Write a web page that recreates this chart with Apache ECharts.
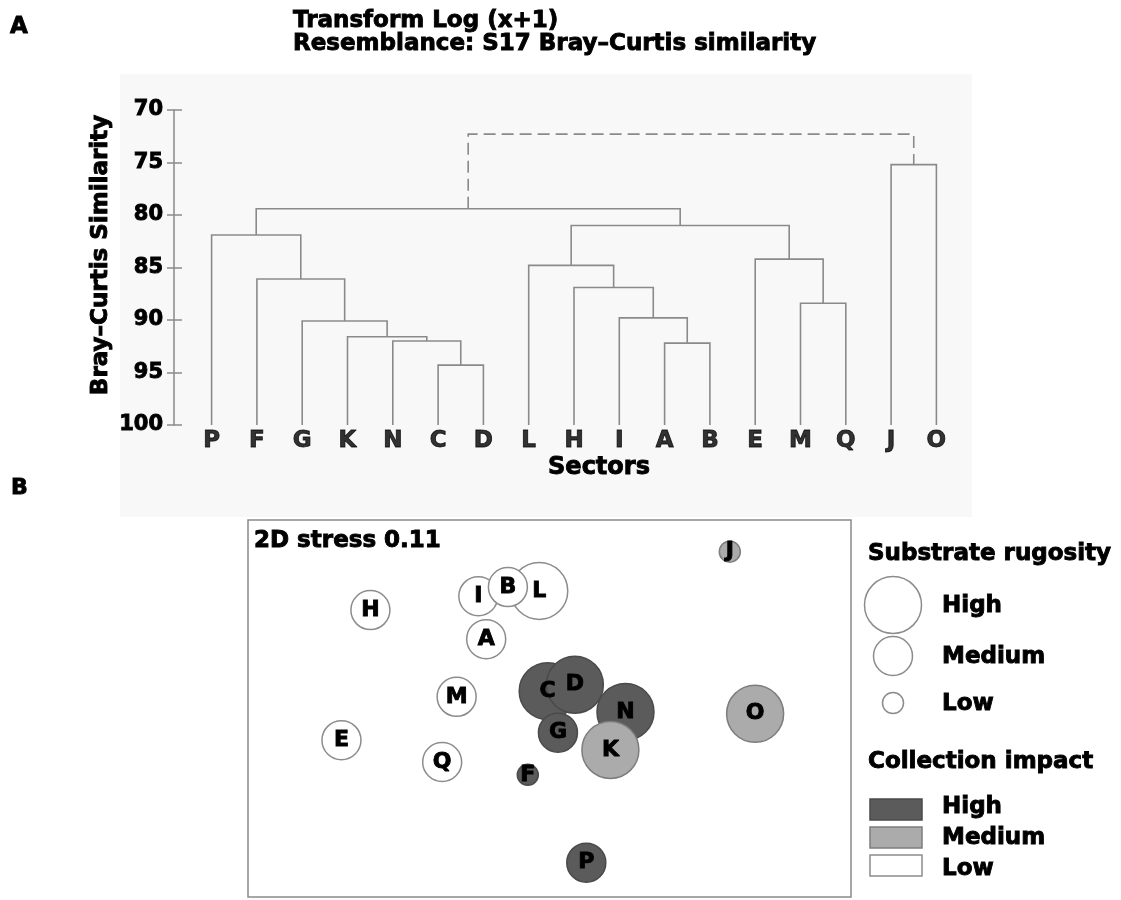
<!DOCTYPE html>
<html>
<head>
<meta charset="utf-8">
<script src="https://cdn.jsdelivr.net/npm/echarts@6/dist/echarts.min.js"></script>
<style>
html,body{margin:0;padding:0;background:#fff;}
#chart{width:1121px;height:900px;}
</style>
</head>
<body>
<div id="chart"></div>
<script>
// ---- Panel A: dendrogram data ----
const leaves = ['P','F','G','K','N','C','D','L','H','I','A','B','E','M','Q','J','O'];
// merges in order; new node k is named 'n'+(k+1)
const mergeA   = ['C','N','K','G','F','P','A','I','H','L','M','E','n10','n6','J','n14'];
const mergeB   = ['D','n1','n2','n3','n4','n5','B','n7','n8','n9','Q','n11','n12','n13','O','n15'];
const mergeSim = [94.3,92.0,91.6,90.1,86.1,81.9,92.2,89.8,86.9,84.8,88.4,84.2,81.0,79.4,75.2,72.3];

// ---- Panel B: MDS data ----
const sectors  = ['J','H','L','I','B','A','M','C','D','G','N','K','O','E','Q','F','P'];
const mdsX     = [79.9,20.3,48.3,38.2,43.1,39.5,34.6,49.7,54.2,51.4,62.6,60.1,84.1,15.5,32.2,46.4,56.1];
const mdsY     = [91.6,76.1,81.2,79.8,82.2,68.4,53.1,54.6,56.3,43.6,49.1,39.0,48.6,41.6,35.8,32.4,9.1];
const rugosity = ['Low','Medium','High','Medium','Medium','Medium','Medium','High','High','Medium','High','High','High','Medium','Medium','Low','Medium'];
const impact   = ['Medium','Low','Low','Low','Low','Low','Low','High','High','High','High','Medium','Medium','Low','Low','High','High'];
const rugosityLevels = ['High','Medium','Low'];
const impactLevels   = ['High','Medium','Low'];

// ---- styles ----
const FONT = '"DejaVu Sans", sans-serif';
const LINE = '#8a8a8a';
const HEAVY = 0.9;
const sizeMap = {High:57, Medium:39, Low:21};
const fillMap = {High:'#5b5b5b', Medium:'#ababab', Low:'#ffffff'};
const edgeMap = {High:'#4a4a4a', Medium:'#7d7d7d', Low:'#8c8c8c'};

// build dendrogram polylines
const pos = {};
leaves.forEach((n,i)=>{ pos[n] = {x:i, h:100}; });
const solid = [], dashed = [];
for (let k=0;k<mergeA.length;k++){
  const a = pos[mergeA[k]], b = pos[mergeB[k]], h = mergeSim[k];
  const seg = {coords:[[a.x,a.h],[a.x,h],[b.x,h],[b.x,b.h]]};
  if (k === mergeA.length-1) dashed.push(seg); else solid.push(seg);
  pos['n'+(k+1)] = {x:(a.x+b.x)/2, h:h};
}

const bubbleData = sectors.map((s,i)=>({
  name: s,
  value: [mdsX[i], mdsY[i]],
  symbolSize: sizeMap[rugosity[i]],
  itemStyle: {color: fillMap[impact[i]], borderColor: edgeMap[impact[i]], borderWidth: 1.5, opacity: 1}
}));

function txt(text, x, y, size, align, extra){
  return Object.assign({
    type:'text', x:x, y:y, silent:true,
    style:{text:text, fill:'#000', stroke:'#000', lineWidth:HEAVY, font:'bold '+size+'px '+FONT,
      textAlign:align||'left', textVerticalAlign:'middle', align:align||'left', verticalAlign:'middle'}
  }, extra||{});
}

const graphics = [
  {type:'rect', shape:{x:120,y:74,width:852,height:443}, style:{fill:'#f8f8f8'}, z:-1, silent:true},
  txt('A', 10, 27, 23),
  txt('Transform Log (x+1)', 293, 21, 23),
  txt('Resemblance: S17 Bray\u2013Curtis similarity', 293, 44, 23),
  txt('Bray\u2013Curtis Similarity', 101, 255, 23, 'center', {rotation: Math.PI/2}),
  txt('Sectors', 599, 468, 24, 'center'),
  txt('B', 11, 488, 22),
  txt('2D stress 0.11', 254, 541, 23),
  txt('Substrate rugosity', 868, 554, 23),
  txt('Collection impact', 868, 762, 23)
];
// legend: rugosity circles
const legCircleY = [605, 656, 703];
rugosityLevels.forEach((lv,i)=>{
  graphics.push({type:'circle', shape:{cx:893, cy:legCircleY[i], r:sizeMap[lv]/2}, style:{fill:'#fff', stroke:'#8c8c8c', lineWidth:1.5}, silent:true});
  graphics.push(txt(lv, 942, legCircleY[i]+1, 23));
});
// legend: impact rects
const legRectY = [799, 827, 855];
const legTextY = [807, 838, 869];
impactLevels.forEach((lv,i)=>{
  graphics.push({type:'rect', shape:{x:870, y:legRectY[i], width:52, height:21}, style:{fill:fillMap[lv], stroke:edgeMap[lv], lineWidth:1.5}, silent:true});
  graphics.push(txt(lv, 942, legTextY[i], 23));
});

const chart = echarts.init(document.getElementById('chart'), null, {renderer:'canvas'});
chart.setOption({
  animation:false,
  backgroundColor:'#ffffff',
  grid:[
    {left:174, top:110, width:800, height:315},
    {left:248, top:520, width:603, height:377, show:true, borderColor:'#8a8a8a', borderWidth:1.5, backgroundColor:'#ffffff'}
  ],
  xAxis:[
    {gridIndex:0, type:'value', min:-0.83, max:16.83, show:false},
    {gridIndex:1, type:'value', min:0, max:100, show:false}
  ],
  yAxis:[
    {gridIndex:0, type:'value', inverse:true, min:70, max:100, interval:5, position:'left',
     axisLine:{show:true, onZero:false, lineStyle:{color:LINE, width:1.5}},
     axisTick:{show:true, length:7, lineStyle:{color:LINE, width:1.5}},
     axisLabel:{margin:11, color:'#000', fontSize:21, fontWeight:'bold', fontFamily:'DejaVu Sans',
                textBorderColor:'#000', textBorderWidth:HEAVY},
     splitLine:{show:false}},
    {gridIndex:0, type:'value', inverse:true, min:70, max:100, interval:5, position:'left', offset:0,
     axisLine:{show:false, onZero:false},
     axisTick:{show:true, inside:true, length:8, lineStyle:{color:LINE, width:1.5}},
     axisLabel:{show:false}, splitLine:{show:false}},
    {gridIndex:1, type:'value', min:0, max:100, show:false}
  ],
  graphic: graphics,
  series:[
    {type:'lines', coordinateSystem:'cartesian2d', xAxisIndex:0, yAxisIndex:0, polyline:true, silent:true,
     lineStyle:{color:LINE, width:1.6, opacity:1}, data: solid},
    {type:'lines', coordinateSystem:'cartesian2d', xAxisIndex:0, yAxisIndex:0, polyline:true, silent:true,
     lineStyle:{color:LINE, width:1.6, opacity:1, type:[12,6]}, data: dashed},
    {type:'scatter', xAxisIndex:0, yAxisIndex:0, silent:true, symbolSize:1,
     itemStyle:{color:'transparent'},
     label:{show:true, position:'bottom', distance:4, formatter:p=>leaves[p.dataIndex],
            color:'#000', fontSize:23, fontWeight:'bold', fontFamily:'DejaVu Sans',
            textBorderColor:'#000', textBorderWidth:HEAVY},
     data: leaves.map((n,i)=>[i,100])},
    {type:'scatter', xAxisIndex:1, yAxisIndex:2, silent:true,
     label:{show:true, position:'inside', formatter:p=>p.name, color:'#000', fontSize:22, fontWeight:'bold', fontFamily:'DejaVu Sans',
            textBorderColor:'#000', textBorderWidth:HEAVY},
     data: bubbleData}
  ]
});
</script>
</body>
</html>
